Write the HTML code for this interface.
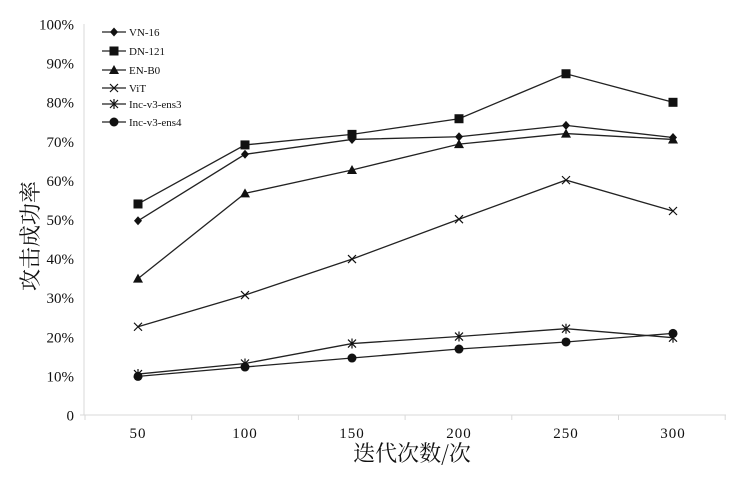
<!DOCTYPE html>
<html><head><meta charset="utf-8"><style>body{margin:0;background:#fff}svg{display:block}</style></head>
<body>
<svg id="s" width="738" height="477" xmlns="http://www.w3.org/2000/svg" font-family="Liberation Serif, serif">
</svg>
<script>
const s=document.getElementById('s');
let h='';
const Y=v=>415.5-3.91*v, X=i=>138+107*i;
h+='<line x1="84" y1="24" x2="84" y2="415" stroke="#d9d9d9"/>';
h+='<line x1="80" y1="415" x2="726" y2="415" stroke="#d9d9d9"/>';
for(let i=0;i<=6;i++){const x=85+106.7*i;h+=`<line x1="${x}" y1="415" x2="${x}" y2="420" stroke="#d9d9d9"/>`;}
for(let v=0;v<=100;v+=10){h+=`<text x="74" y="${Y(v)+5}" font-size="15" text-anchor="end" fill="#111">${v==0?'0':v+'%'}</text>`;}
[50,100,150,200,250,300].forEach((t,i)=>h+=`<text x="${X(i)}" y="438" font-size="15" text-anchor="middle" letter-spacing="1" fill="#111">${t}</text>`);
h+='<text x="412" y="461" font-size="22" text-anchor="middle" font-family="Noto Serif CJK SC, serif" fill="#111">迭代次数/次</text>';
h+='<text transform="translate(38,236) rotate(-90)" font-size="22" text-anchor="middle" font-family="Noto Serif CJK SC, serif" fill="#111">攻击成功率</text>';
const D=[["VN-16","d",[49.8,66.8,70.6,71.3,74.2,71.1]],["DN-121","s",[54.1,69.2,71.9,75.9,87.4,80.1]],["EN-B0","t",[35,56.8,62.8,69.4,72.1,70.6]],["ViT","x",[22.7,30.8,40,50.2,60.2,52.3]],["Inc-v3-ens3","a",[10.6,13.3,18.4,20.2,22.2,19.9]],["Inc-v3-ens4","c",[10,12.4,14.7,17,18.8,21]]];
function m(t,x,y){
 if(t=="d")return `<polygon points="${x},${y-4.5} ${x+4},${y} ${x},${y+4.5} ${x-4},${y}" fill="#111"/>`;
 if(t=="s")return `<rect x="${x-4.5}" y="${y-4.5}" width="9" height="9" fill="#111"/>`;
 if(t=="t")return `<polygon points="${x},${y-5} ${x+5},${y+4} ${x-5},${y+4}" fill="#111"/>`;
 if(t=="x")return `<path d="M${x-4},${y-4}L${x+4},${y+4}M${x-4},${y+4}L${x+4},${y-4}" stroke="#111" stroke-width="1.2"/>`;
 if(t=="a")return `<path d="M${x-4},${y-4}L${x+4},${y+4}M${x-4},${y+4}L${x+4},${y-4}M${x},${y-5}L${x},${y+5}" stroke="#111" stroke-width="1.2"/>`;
 return `<circle cx="${x}" cy="${y}" r="4.5" fill="#111"/>`;
}
D.forEach((d,k)=>{
 h+=`<polyline fill="none" stroke="#222" stroke-width="1.3" points="${d[2].map((v,i)=>X(i)+','+Y(v)).join(' ')}"/>`;
 d[2].forEach((v,i)=>h+=m(d[1],X(i),Y(v)));
 const ly=[32,51,70,88,104,122][k];
 h+=`<line x1="102" y1="${ly}" x2="126" y2="${ly}" stroke="#222" stroke-width="1.3"/>`+m(d[1],114,ly);
 h+=`<text x="129" y="${ly+4}" font-size="11" fill="#111">${d[0]}</text>`;
});
s.innerHTML=h;
</script>
</body></html>
